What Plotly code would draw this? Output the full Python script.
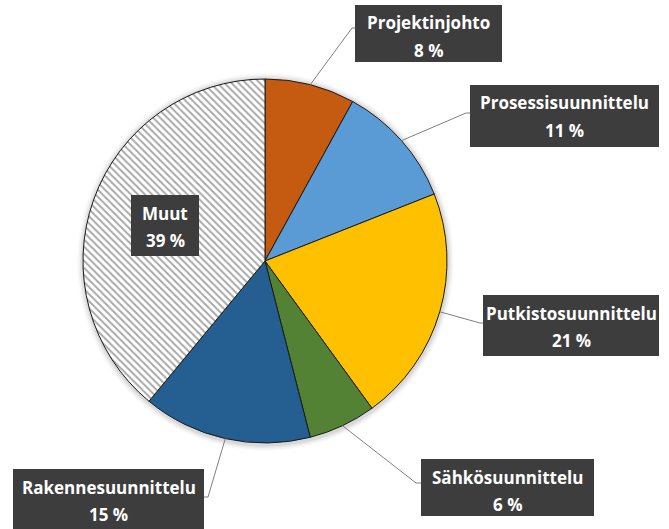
import numpy as np
import plotly.graph_objects as go

# data
categories = ["Projektinjohto", "Prosessisuunnittelu", "Putkistosuunnittelu",
              "Sähkösuunnittelu", "Rakennesuunnittelu", "Muut"]
shares = [8, 11, 21, 6, 15, 39]
colors = ["#C55A11", "#5B9BD5", "#FFC000", "#548235", "#255E91", "#FFFFFF"]

W, H = 669, 529
CX, CY, R = 265, 261, 182  # pie center / radius in px

# label boxes: (left, top, width, height) in px, and where the leader meets the box
boxes = {
    "Projektinjohto": ((355, 5, 147, 57), (352, 28), (355, 28)),
    "Prosessisuunnittelu": ((470, 85, 189, 62), (466, 113), (470, 113)),
    "Putkistosuunnittelu": ((483, 295, 176, 61), (480, 323), (483, 323)),
    "Sähkösuunnittelu": ((421, 459, 173, 57), (416, 483), (421, 483)),
    "Rakennesuunnittelu": ((13, 469, 191, 64), (208, 497), (204, 497)),
    "Muut": ((131, 195, 68, 61), None, None),
}
LINE1, LINE2 = 18, 45  # text line centres below the box top, px


def px(x):
    return x / W


def py(y):
    return 1 - y / H


fig = go.Figure()

fig.add_trace(go.Pie(
    labels=categories, values=shares, sort=False, direction="clockwise",
    rotation=0, textinfo="none", hoverinfo="label+percent",
    marker=dict(
        colors=colors,
        line=dict(color="#1a1a1a", width=1),
        pattern=dict(shape=["", "", "", "", "", "\\"], fgcolor="#a8a8a8",
                     bgcolor="#FFFFFF", size=5, solidity=0.4),
    ),
    domain=dict(x=[px(CX - R), px(CX + R)], y=[py(CY + R), py(CY - R)]),
    showlegend=False,
))

# soft shadow around the pie
shapes = []
for i, a in enumerate([0.06, 0.045, 0.03, 0.02]):
    d = 1.5 + i * 1.5
    shapes.append(dict(type="circle", xref="paper", yref="paper", layer="below",
                       x0=px(CX - R - d), x1=px(CX + R + d + 1),
                       y0=py(CY + R + d + 2), y1=py(CY - R - d),
                       fillcolor=f"rgba(0,0,0,{a})", line=dict(width=0)))

# leader lines from slice mid-angle on the rim to the boxes
cum = np.cumsum([0] + shares[:-1])
total = sum(shares)
annotations = []
for cat, start, val in zip(categories, cum, shares):
    (bx, by, bw, bh), elbow, end = boxes[cat]
    if elbow is not None:
        ang = np.deg2rad((start + val / 2) / total * 360)
        ex, ey = CX + R * np.sin(ang), CY - R * np.cos(ang)
        shapes.append(dict(
            type="path", xref="paper", yref="paper",
            path=f"M {px(ex)} {py(ey)} L {px(elbow[0])} {py(elbow[1])} L {px(end[0])} {py(end[1])}",
            line=dict(color="#7f7f7f", width=1),
        ))
    # box
    shapes.append(dict(type="rect", xref="paper", yref="paper",
                       x0=px(bx), x1=px(bx + bw), y0=py(by + bh), y1=py(by),
                       fillcolor="#3d3d3d", line=dict(width=0)))
    # two text lines
    for txt, off in [(cat, LINE1), (f"{val} %", LINE2)]:
        annotations.append(dict(
            xref="paper", yref="paper", x=px(bx + bw / 2), y=py(by + off),
            xanchor="center", yanchor="middle", showarrow=False,
            text=f"<b>{txt}</b>", font=dict(family="Open Sans", size=17, color="white"),
        ))

fig.update_layout(
    width=W, height=H, margin=dict(l=0, r=0, t=0, b=0),
    paper_bgcolor="white", plot_bgcolor="white",
    shapes=shapes, annotations=annotations,
)

fig.write_html("out.html", config={"displayModeBar": False},
               post_script="document.body.style.margin='0';")
